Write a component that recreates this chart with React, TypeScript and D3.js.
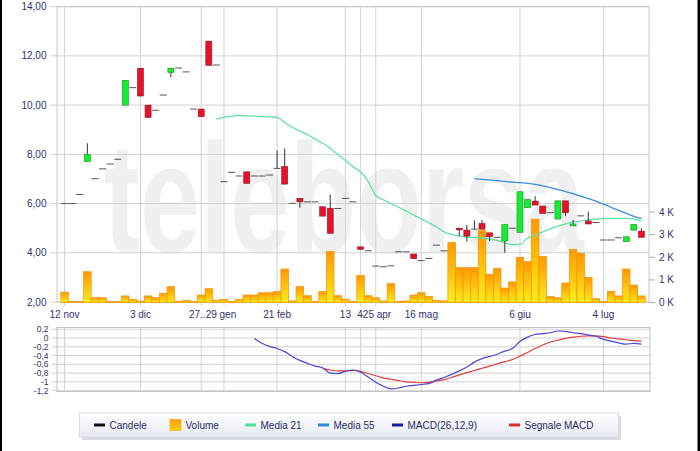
import React from "react";
import * as d3 from "d3";

const N = 77;
const openV: (number | null)[] = [6.0,6.0,6.37,7.7,7.01,7.41,7.61,7.8,10.0,10.71,11.5,10.0,9.79,10.41,11.32,11.51,11.35,9.84,9.84,12.6,11.63,6.89,7.27,7.12,7.29,7.12,7.12,7.16,7.43,7.5,6.01,6.21,6.07,6.07,5.87,5.81,5.8,6.21,6.07,4.24,4.08,3.46,3.43,3.47,4.04,4.04,3.95,3.68,3.77,4.31,4.08,null,5.0,4.92,4.96,5.19,4.81,4.63,4.48,5.0,4.83,5.83,6.1,5.9,5.63,5.37,6.11,5.09,5.5,5.29,5.23,4.52,4.52,4.61,4.45,4.92,4.88];
const highV: (number | null)[] = [6.0,6.0,6.37,8.45,7.01,7.41,7.61,7.8,11.01,10.71,11.5,10.0,9.79,10.41,11.5,11.51,11.35,9.84,9.84,12.6,11.63,6.89,7.27,7.12,7.29,7.12,7.12,7.16,8.16,8.24,6.01,6.21,6.07,6.07,5.87,6.37,5.8,6.21,6.07,4.24,4.08,3.46,3.43,3.47,4.04,4.04,3.95,3.68,3.77,4.31,4.08,null,5.0,5.13,5.32,5.33,4.81,4.63,5.15,5.0,6.48,6.17,6.3,5.9,5.63,6.11,6.11,5.33,5.5,5.67,5.23,4.52,4.52,4.61,4.65,5.15,5.0];
const lowV: (number | null)[] = [6.0,6.0,6.37,7.7,7.01,7.41,7.61,7.8,10.0,10.71,10.37,9.5,9.79,10.41,11.13,11.51,11.35,9.84,9.53,11.62,11.63,6.89,7.27,7.12,6.82,7.12,7.12,7.16,7.43,6.79,6.01,5.83,6.07,6.07,5.49,4.79,5.8,6.21,6.07,4.14,4.08,3.46,3.43,3.47,4.04,4.04,3.76,3.68,3.77,4.31,4.08,null,4.68,4.45,4.96,4.96,4.48,4.63,4.0,5.0,4.83,5.83,5.94,5.6,5.63,5.37,5.49,5.09,5.5,5.17,5.23,4.52,4.52,4.61,4.45,4.92,4.63];
const closeV: (number | null)[] = [6.0,6.0,6.37,8.0,7.01,7.41,7.61,7.8,11.01,10.71,10.37,9.5,9.79,10.41,11.5,11.51,11.35,9.84,9.53,11.62,11.63,6.89,7.27,7.12,6.82,7.12,7.12,7.16,7.43,6.79,6.01,6.07,6.07,6.07,5.49,4.79,5.8,6.21,6.07,4.14,4.08,3.46,3.43,3.47,4.04,4.04,3.76,3.68,3.77,4.31,4.08,null,4.93,4.68,4.96,4.96,4.65,4.63,5.15,5.0,6.48,6.17,5.94,5.6,5.63,6.11,5.63,5.17,5.5,5.17,5.23,4.52,4.52,4.61,4.65,5.15,4.63];
const volumeK: number[] = [0.46,0.04,0.04,1.36,0.21,0.21,0.04,0.04,0.29,0.14,0.06,0.29,0.21,0.41,0.7,0.05,0.1,0.04,0.33,0.61,0.1,0.14,0.05,0.14,0.33,0.33,0.43,0.43,0.48,1.48,0.07,0.7,0.3,0.05,0.48,2.25,0.3,0.15,0.05,1.19,0.3,0.21,0.07,0.83,0.05,0.07,0.33,0.43,0.26,0.1,0.07,2.65,1.54,1.54,1.54,3.18,1.25,1.5,0.64,0.91,2.0,1.81,3.68,2.03,0.26,0.21,0.86,2.35,2.18,1.11,0.17,0.04,0.49,0.29,1.48,0.77,0.29];
const media21: (number | null)[] = [null,null,null,null,null,null,null,null,null,null,null,null,null,null,null,null,null,null,null,null,9.43,9.5,9.55,9.58,9.56,9.55,9.53,9.52,9.5,9.3,9.1,8.95,8.8,8.62,8.45,8.25,8.0,7.75,7.5,7.28,6.9,6.33,6.15,6.0,5.85,5.7,5.53,5.38,5.22,5.05,4.85,4.75,4.67,4.64,4.62,4.6,4.56,4.5,4.4,4.33,4.35,4.6,4.72,4.85,4.97,5.08,5.17,5.25,5.29,5.34,5.37,5.39,5.4,5.4,5.4,5.38,5.3];
const media55: (number | null)[] = [...Array(54).fill(null),7.01,6.98,6.96,6.93,6.9,6.87,6.85,6.82,6.78,6.72,6.65,6.57,6.49,6.4,6.3,6.2,6.1,5.98,5.85,5.72,5.6,5.48,5.4];
const macd: (number | null)[] = [...Array(25).fill(null),-0.01,-0.12,-0.19,-0.24,-0.31,-0.42,-0.51,-0.58,-0.64,-0.68,-0.8,-0.81,-0.76,-0.73,-0.78,-0.89,-1.01,-1.1,-1.16,-1.14,-1.1,-1.08,-1.06,-1.04,-0.96,-0.9,-0.83,-0.75,-0.66,-0.55,-0.47,-0.42,-0.37,-0.3,-0.24,-0.08,0.02,0.08,0.1,0.12,0.16,0.15,0.12,0.1,0.07,0.04,-0.03,-0.07,-0.11,-0.14,-0.12,-0.14];
const signal: (number | null)[] = [...Array(34).fill(null),-0.7,-0.73,-0.75,-0.75,-0.74,-0.76,-0.81,-0.86,-0.91,-0.94,-0.97,-1.0,-1.01,-1.02,-1.01,-0.98,-0.95,-0.9,-0.84,-0.79,-0.74,-0.69,-0.64,-0.59,-0.54,-0.49,-0.41,-0.33,-0.24,-0.16,-0.09,-0.05,-0.01,0.02,0.04,0.05,0.05,0.03,0.0,-0.02,-0.04,-0.06,-0.07];

const gridIdx = [0, 10, 18, 21, 28, 37, 39, 41, 47, 60, 71];
const xLabelPos = [0, 10, 19.5, 28, 37, 40.8, 47, 60, 71];
const xLabels = ["12 nov", "3 dic", "27..29 gen", "21 feb", "13", "425 apr", "16 mag", "6 giu", "4 lug"];
const priceTicks = [2, 4, 6, 8, 10, 12, 14];
const volTicks = [0, 1, 2, 3, 4];
const macdTicks = [0.2, 0, -0.2, -0.4, -0.6, -0.8, -1, -1.2];
const legendItems = ["Candele", "Volume", "Media 21", "Media 55", "MACD(26,12,9)", "Segnale MACD"];

const FONT = "'Liberation Sans', Arial, sans-serif";
const TXT = "#333370";
const GRID = "#d2d2d2";

export default function App() {
  const L = 57, R = 649, T = 6.7, B = 302;
  const x = d3.scaleLinear().domain([-1, N]).range([L, R]);
  const y = d3.scaleLinear().domain([2, 14]).range([B, T]);
  const yv = d3.scaleLinear().domain([0, 4]).range([302.5, 212]);
  const MT = 327.5, MB = 391.5;
  const ym = d3.scaleLinear().domain([-1.22, 0.24]).range([MB, MT]);
  const step = x(1) - x(0);

  const mkLine = (arr: (number | null)[], sc: d3.ScaleLinear<number, number>) =>
    d3.line<number | null>()
      .defined((d) => d !== null)
      .x((_, i) => x(i))
      .y((d) => sc(d as number))
      .curve(d3.curveMonotoneX)(arr) || "";

  const fmt = (v: number) => v.toFixed(2).replace(".", ",");
  const fmtM = (v: number) => (Math.round(v * 10) / 10).toString().replace(".", ",");

  const legendX = [94, 170, 245, 318, 392, 509];
  const legendColors = ["#111111", "", "#4de39b", "#2f88d8", "#1a1aa0", "#dd3030"];

  return (
    <svg width={700} height={451} style={{ position: "absolute", left: 0, top: 0, background: "#fff" }} fontFamily={FONT}>
      <defs>
        <linearGradient id="vg" x1="0" y1="0" x2="0" y2="1">
          <stop offset="0" stopColor="#ff9800" />
          <stop offset="1" stopColor="#ffee1a" />
        </linearGradient>
        <linearGradient id="lg" x1="0" y1="0" x2="0" y2="1">
          <stop offset="0" stopColor="#ffffff" />
          <stop offset="1" stopColor="#e6eaf1" />
        </linearGradient>
        <linearGradient id="sw" x1="0" y1="0" x2="0" y2="1">
          <stop offset="0" stopColor="#ff9c00" />
          <stop offset="1" stopColor="#ffd400" />
        </linearGradient>
      </defs>
      <rect x={0} y={0} width={700} height={451} fill="#fff" />

      {/* watermark */}
      <text transform="translate(104,252) scale(1,1.45)" x={0} y={0} fontSize={108} fontWeight="bold" fill="#f0f0f0" fontFamily="'Liberation Sans', Arial, sans-serif">teleborsa</text>

      {/* main grid */}
      {priceTicks.map((t) => (
        <g key={"p" + t}>
          <line x1={50} x2={R} y1={y(t)} y2={y(t)} stroke={GRID} />
          <text x={46.5} y={y(t)} dy="0.35em" textAnchor="end" fontSize={10} fill={TXT}>{fmt(t)}</text>
        </g>
      ))}
      {gridIdx.map((g) => (
        <line key={"v" + g} x1={x(g)} x2={x(g)} y1={T} y2={B + 4} stroke={GRID} />
      ))}
      <rect x={L} y={T} width={R - L} height={B - T} fill="none" stroke="#c8c8c8" />

      {/* volume */}
      {volumeK.map((v, i) => (
        <rect key={"vol" + i} x={x(i) - step / 2} y={yv(v)} width={step} height={yv(0) - yv(v)} fill="url(#vg)" stroke="#f39200" strokeWidth={0.7} />
      ))}
      {volTicks.map((t) => (
        <g key={"vt" + t}>
          <line x1={R} x2={R + 6} y1={yv(t)} y2={yv(t)} stroke="#aaa" />
          <text x={659} y={yv(t)} dy="0.35em" fontSize={10} fill={TXT}>{t + " K"}</text>
        </g>
      ))}

      {/* moving averages */}
      <path d={mkLine(media21, y)} fill="none" stroke="#5fe3a3" strokeWidth={1.3} />
      <path d={mkLine(media55, y)} fill="none" stroke="#3a8ee0" strokeWidth={1.3} />

      {/* candles */}
      {openV.map((o, i) => {
        const h = highV[i], l = lowV[i], c = closeV[i];
        if (o === null || h === null || l === null || c === null) return null;
        const cx = x(i);
        if (Math.abs(o - c) < 0.001) {
          return (
            <g key={"c" + i}>
              {h > l && <line x1={cx} x2={cx} y1={y(h)} y2={y(l)} stroke="#333" />}
              <line x1={cx - 3.5} x2={cx + 3.5} y1={y(c)} y2={y(c)} stroke="#555" strokeWidth={1} />
            </g>
          );
        }
        const up = c > o;
        return (
          <g key={"c" + i}>
            <line x1={cx} x2={cx} y1={y(h)} y2={y(l)} stroke="#333" />
            <rect x={cx - 3} y={y(Math.max(o, c))} width={6} height={Math.abs(y(o) - y(c))} fill={up ? "#11ee33" : "#e8102a"} stroke={up ? "#2a8a2a" : "#8a1a1a"} strokeWidth={0.6} />
          </g>
        );
      })}

      {/* x labels */}
      {xLabels.map((s, k) => (
        <text key={"xl" + k} x={x(xLabelPos[k])} y={318} textAnchor="middle" fontSize={10} fill={TXT}>{s}</text>
      ))}

      {/* MACD panel */}
      {macdTicks.map((t) => (
        <g key={"m" + t}>
          <line x1={52} x2={650} y1={ym(t)} y2={ym(t)} stroke={GRID} />
          <text x={48.5} y={ym(t)} dy="0.35em" textAnchor="end" fontSize={8.5} fill={TXT}>{fmtM(t)}</text>
        </g>
      ))}
      {gridIdx.map((g) => (
        <line key={"mv" + g} x1={x(g)} x2={x(g)} y1={MT} y2={MB} stroke={GRID} />
      ))}
      <rect x={L} y={MT} width={650 - L} height={MB - MT} fill="none" stroke="#c4c4c4" />
      <path d={mkLine(signal, ym)} fill="none" stroke="#e23c3c" strokeWidth={1.2} />
      <path d={mkLine(macd, ym)} fill="none" stroke="#4848dc" strokeWidth={1.2} />

      {/* legend */}
      <rect x={82} y={416} width={539} height={24} fill="#d8dce2" />
      <rect x={79.5} y={413} width={539} height={24} fill="url(#lg)" stroke="#d6dbe3" />
      {legendItems.map((s, k) => (
        <g key={"lg" + k}>
          {k === 1 ? (
            <rect x={legendX[k]} y={419.5} width={11} height={11} fill="url(#sw)" stroke="#f0a000" strokeWidth={0.6} />
          ) : (
            <line x1={legendX[k]} x2={legendX[k] + 11} y1={425} y2={425} stroke={legendColors[k]} strokeWidth={3} />
          )}
          <text x={legendX[k] + 15.5} y={425} dy="0.35em" fontSize={10} fill="#2a2a6a">{s}</text>
        </g>
      ))}

      {/* image edge bars */}
      <rect x={0} y={0} width={2} height={451} fill="#000" />
      <rect x={697.5} y={0} width={2.5} height={451} fill="#000" />
    </svg>
  );
}
